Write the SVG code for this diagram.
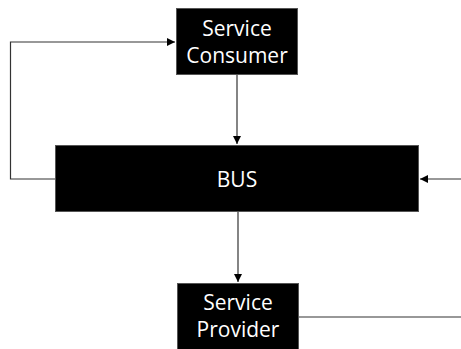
<svg xmlns="http://www.w3.org/2000/svg" width="461" height="349" viewBox="0 0 461 349">
<defs>
<style>
.box{fill:#000;stroke:#555;stroke-width:1}
.lbl{fill:#fff;font-family:"Open Sans","Noto Sans",sans-serif;font-size:21px;text-anchor:middle}
.con{fill:none;stroke:#333;stroke-width:1.2}
</style>
<marker id="arr" viewBox="0 0 10 10" refX="10" refY="5" markerWidth="8" markerHeight="8" markerUnits="userSpaceOnUse" orient="auto">
<path d="M0,0 L10,5 L0,10 Z" fill="#000"/>
</marker>
</defs>
<rect width="461" height="349" fill="#fff"/>
<g id="connectors">
<path class="con" d="M55,179 H10.5 V42 H175" marker-end="url(#arr)"/>
<path class="con" d="M237,75 V144" marker-end="url(#arr)"/>
<path class="con" d="M461,179 H420" marker-end="url(#arr)"/>
<path class="con" d="M238,212 V282" marker-end="url(#arr)"/>
<path class="con" d="M299,317 H461"/>
</g>
<g id="consumer">
<rect class="box" x="176.5" y="8.5" width="121" height="66"/>
<text class="lbl" x="237" y="36">Service</text>
<text class="lbl" x="237" y="63">Consumer</text>
</g>
<g id="bus">
<rect class="box" x="55.5" y="145.5" width="363" height="66"/>
<text class="lbl" x="237" y="187">BUS</text>
</g>
<g id="provider">
<rect class="box" x="177.5" y="283.5" width="121" height="70"/>
<text class="lbl" x="238" y="310">Service</text>
<text class="lbl" x="238" y="337">Provider</text>
</g>
</svg>
